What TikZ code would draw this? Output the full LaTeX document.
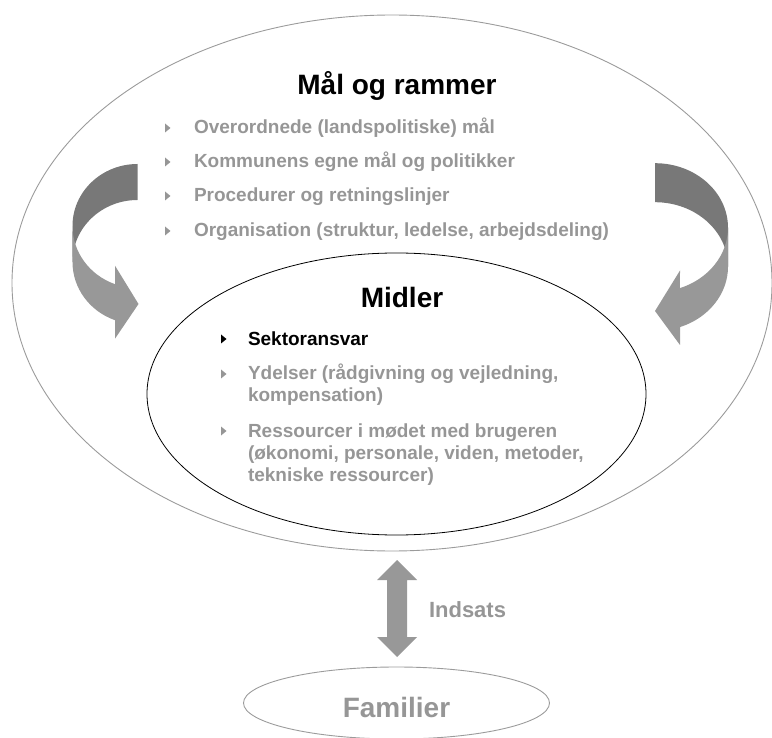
\documentclass[tikz,border=0pt]{standalone}
\usepackage{fontspec}
\setmainfont{Liberation Sans}
\usetikzlibrary{shapes.geometric}
\definecolor{txtgray}{RGB}{150,150,150}
\definecolor{linegray}{RGB}{155,155,155}
\definecolor{backgray}{RGB}{120,120,120}
\definecolor{frontgray}{RGB}{152,152,152}
\begin{document}
\begin{tikzpicture}[x=1pt,y=-1pt,
  every node/.style={inner sep=0pt, outer sep=0pt},
  title/.style={font=\fontsize{28}{32}\selectfont\bfseries, anchor=base},
  item/.style={font=\fontsize{19}{22}\selectfont\bfseries, anchor=base west, text=txtgray},
  ring/.style={draw, ellipse, line width=0.9pt},
  tri/.pic={\fill[#1] (0,-4.5) -- (5.5,0) -- (0,4.5) -- cycle;}]

\useasboundingbox (0,0) rectangle (772,738);

% outer ellipse
\node[ring, draw=linegray, minimum width=760, minimum height=536] (outer) at (392,283) {};

% left curved arrow
\fill[backgray] (137.5,164) arc[start angle=270, end angle=180, x radius=65, y radius=62]
  -- (72.5,262) arc[start angle=180, end angle=270, x radius=65, y radius=62] -- cycle;
\fill[frontgray] (72.5,226) arc[start angle=180, end angle=110.25, x radius=65, y radius=62]
  -- (115,265.7) -- (138.5,304) -- (115,338.7) -- (115,320.2)
  arc[start angle=110.25, end angle=180, x radius=65, y radius=62] -- cycle;

% right curved arrow
\fill[backgray] (655,163.2) arc[start angle=270, end angle=360, x radius=73, y radius=64.4]
  -- (728,266.6) arc[start angle=0, end angle=-90, x radius=73, y radius=64.4] -- cycle;
\fill[frontgray] (728,227.6) arc[start angle=0, end angle=70, x radius=73, y radius=64.4]
  -- (680,270.5) -- (655,311) -- (680,345) -- (680,327.1)
  arc[start angle=70, end angle=0, x radius=73, y radius=64.4] -- cycle;

% inner ellipse
\node[ring, draw=black, line width=0.8pt, minimum width=499, minimum height=282] (midler) at (396.5,394) {};

% familier ellipse
\node[ring, draw=linegray, minimum width=306, minimum height=72] (familier) at (396.5,703) {};

% titles and items
\node[title] (maal) at (397,95) {Mål og rammer};
\node[item] (o1) at (194,134) {Overordnede (landspolitiske) mål};
\node[item] (o2) at (194,168) {Kommunens egne mål og politikker};
\node[item] (o3) at (194,202) {Procedurer og retningslinjer};
\node[item] (o4) at (194,237) {Organisation (struktur, ledelse, arbejdsdeling)};
\pic at (165,128) {tri=txtgray};
\pic at (165,162) {tri=txtgray};
\pic at (165,196) {tri=txtgray};
\pic at (165,231) {tri=txtgray};

\node[title] (midlertitle) at (402,308) {Midler};
\node[item, text=black] (s1) at (248,345) {Sektoransvar};
\node[item] (y1) at (248,380) {Ydelser (rådgivning og vejledning,};
\node[item] (y2) at (248,402) {kompensation)};
\node[item] (r1) at (248,437) {Ressourcer i mødet med brugeren};
\node[item] (r2) at (248,459) {(økonomi, personale, viden, metoder,};
\node[item] (r3) at (248,481.5) {tekniske ressourcer)};
\pic at (221,339) {tri=black};
\pic at (221,374) {tri=txtgray};
\pic at (221,431) {tri=txtgray};

% Indsats double arrow
\coordinate (itop) at (397,560);
\coordinate (ibot) at (397,657);
\fill[frontgray] (itop) -- ++(20,20) -- ++(-10,0) -- ++(0,57) -- ++(10,0) -- (ibot)
  -- ++(-20,-20) -- ++(10,0) -- ++(0,-57) -- ++(-10,0) -- cycle;
\node[font=\fontsize{22}{26}\selectfont\bfseries, text=txtgray, anchor=base west] (indsats) at (429,617) {Indsats};
\node[title, text=txtgray] (famtext) at (396.5,717) {Familier};
\end{tikzpicture}
\end{document}
